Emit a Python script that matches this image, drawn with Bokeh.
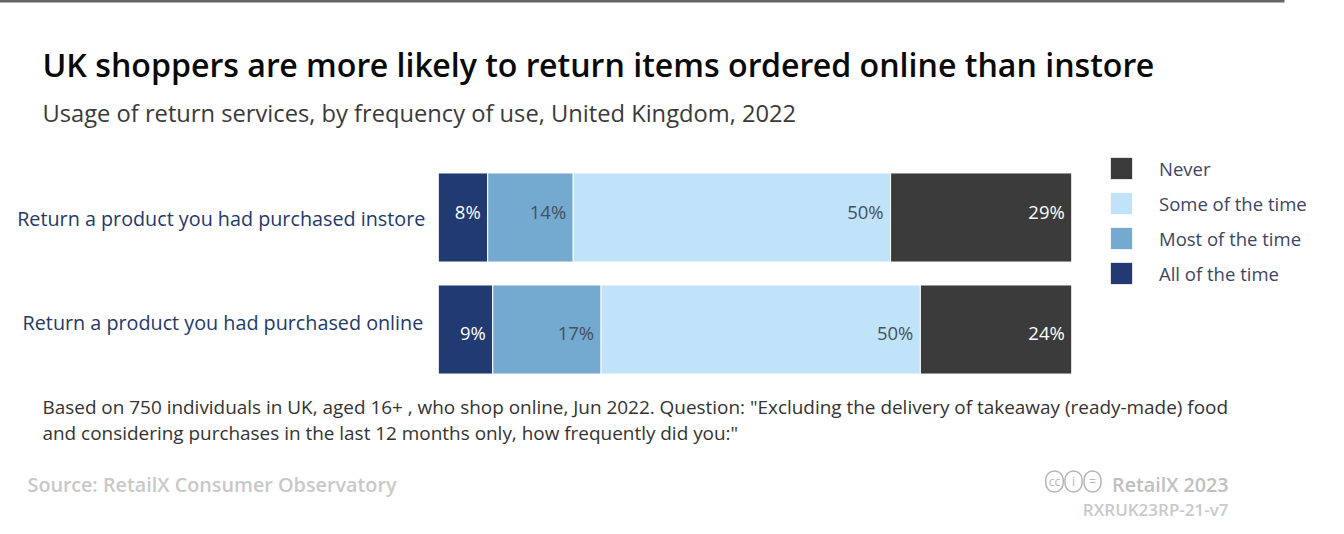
from bokeh.plotting import figure
from bokeh.embed import file_html
from bokeh.resources import INLINE
from bokeh.models import ColumnDataSource, Label, Legend, LegendItem, BoxAnnotation, Range1d
from bokeh.core.properties import value

title = "UK shoppers are more likely to return items ordered online than instore"
subtitle = "Usage of return services, by frequency of use, United Kingdom, 2022"
note_lines = [
    "Based on 750 individuals in UK, aged 16+ , who shop online, Jun 2022. Question: \"Excluding the delivery of takeaway (ready-made) food",
    "and considering purchases in the last 12 months only, how frequently did you:\"",
]
source_text = "Source: RetailX Consumer Observatory"
credit = "RetailX 2023"
code = "RXRUK23RP-21-v7"

categories = ["Return a product you had purchased instore", "Return a product you had purchased online"]
series_names = ["All of the time", "Most of the time", "Some of the time", "Never"]
all_time = [7.8, 8.6]
most_time = [13.5, 17.1]
some_time = [50.1, 50.4]
never = [28.6, 23.9]
all_labels = ["8%", "9%"]
most_labels = ["14%", "17%"]
some_labels = ["50%", "50%"]
never_labels = ["29%", "24%"]

colors = ["#213a72", "#74a9d0", "#c0e3fa", "#3b3b3b"]
label_colors = ["#ffffff", "#46505c", "#46505c", "#ffffff"]
FONT = "Open Sans"
SEMI = "Open Sans SemiBold"

# The frame covers the whole page, so that text around the bars is inside it.
p = figure(width=1344, height=534, output_backend="svg", toolbar_location=None,
           x_range=Range1d(-69.27, 142.9), y_range=Range1d(2.821, -1.946),
           min_border=0, outline_line_color=None,
           background_fill_color="white", border_fill_color="white")
p.margin = (-1, 0, 0, -1)
p.xaxis.visible = False
p.yaxis.visible = False
p.grid.visible = False

rows = list(range(len(categories)))
series = [all_time, most_time, some_time, never]
labels = [all_labels, most_labels, some_labels, never_labels]
left = [0.0, 0.0]
items = []
for name, vals, labs, col, lc in zip(series_names, series, labels, colors, label_colors):
    right = [a + b for a, b in zip(left, vals)]
    src = ColumnDataSource(dict(y=rows, left=left, right=right, label=labs, yo=[-5.5, 3]))
    r = p.hbar(y="y", left="left", right="right", height=0.795, source=src,
               fill_color=col, line_color="white", line_width=1)
    p.text(x="right", y="y", text="label", source=src, x_offset=-7, y_offset="yo",
           text_align="right", text_baseline="middle", text_color=lc,
           text_font=value(FONT), text_font_size="18.5px")
    items.append(LegendItem(label=name, renderers=[r]))
    left = right

cat_src = ColumnDataSource(dict(y=rows, x=[0, 0], text=categories, xo=[-13, -15], yo=[1, -7]))
p.text(x="x", y="y", text="text", source=cat_src, x_offset="xo", y_offset="yo",
       text_align="right", text_baseline="middle", text_color="#23396b",
       text_font=value(FONT), text_font_size="19.75px")

legend = Legend(items=items[::-1], location=(1108, 246), glyph_width=28, glyph_height=28,
                spacing=7, label_standoff=24, label_text_font=FONT, label_text_font_size="18.5px",
                label_text_color="#3c4564", label_height=22, padding=10, margin=0,
                border_line_color=None, background_fill_alpha=0)
p.add_layout(legend, "center")


def txt(x, y, s, size, color, align="left", font=FONT):
    p.add_layout(Label(x=x, y=y, x_units="canvas", y_units="canvas", text=s, text_font=font,
                       text_font_size=size, text_color=color, text_align=align,
                       text_baseline="middle"))


p.add_layout(BoxAnnotation(left=0, right=1285, top=0, bottom=3, left_units="canvas", right_units="canvas",
                           top_units="canvas", bottom_units="canvas", fill_color="#666666", fill_alpha=1,
                           line_color=None))
txt(43, 65, title, "32.15px", "#0a0a0a", font=SEMI)
txt(43, 113, subtitle, "23.7px", "#3a3a3a")
txt(43, 407, note_lines[0], "18.93px", "#333333")
txt(43, 433, note_lines[1], "18.93px", "#333333")
txt(28, 485, source_text, "19.8px", "#c9c9c9", font=SEMI)
txt(1229, 485, credit, "19.7px", "#c0c0c0", align="right", font=SEMI)
txt(1229, 510, code, "17px", "#c9c9c9", align="right", font=SEMI)

for x, s, pad in [(1055, "cc", (3, 2)), (1074, "i", (7, 2)), (1093, "=", (5, 2))]:
    p.add_layout(Label(x=x, y=482, x_units="canvas", y_units="canvas", text=s, text_font=FONT,
                       text_font_size="12px", text_color="#b5b5b5", text_align="center",
                       text_baseline="middle", border_line_color="#b5b5b5", border_line_width=1.5,
                       border_radius=9, padding=pad))

open("out.html", "w").write(file_html(p, INLINE))
